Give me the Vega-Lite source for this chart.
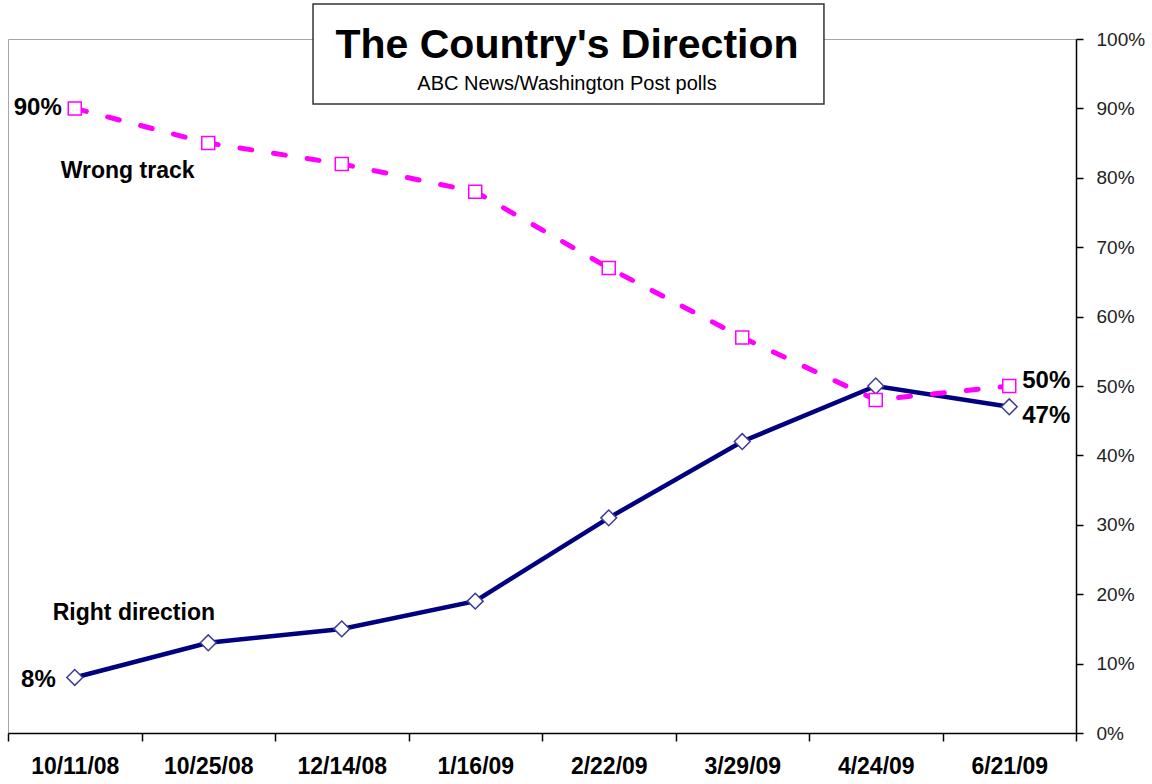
{
  "$schema": "https://vega.github.io/schema/vega-lite/v6.json",
  "width": 1068,
  "height": 694,
  "autosize": {"type": "none"},
  "padding": {"left": 8, "top": 39, "right": 76, "bottom": 51},
  "background": "white",
  "config": {"view": {"stroke": "#a6a6a6", "strokeWidth": 1}, "font": "Liberation Sans"},
  "datasets": {
    "polls": [
      {"date": "10/11/08", "series": "Right direction", "value": 8},
      {"date": "10/25/08", "series": "Right direction", "value": 13},
      {"date": "12/14/08", "series": "Right direction", "value": 15},
      {"date": "1/16/09", "series": "Right direction", "value": 19},
      {"date": "2/22/09", "series": "Right direction", "value": 31},
      {"date": "3/29/09", "series": "Right direction", "value": 42},
      {"date": "4/24/09", "series": "Right direction", "value": 50},
      {"date": "6/21/09", "series": "Right direction", "value": 47},
      {"date": "10/11/08", "series": "Wrong track", "value": 90},
      {"date": "10/25/08", "series": "Wrong track", "value": 85},
      {"date": "12/14/08", "series": "Wrong track", "value": 82},
      {"date": "1/16/09", "series": "Wrong track", "value": 78},
      {"date": "2/22/09", "series": "Wrong track", "value": 67},
      {"date": "3/29/09", "series": "Wrong track", "value": 57},
      {"date": "4/24/09", "series": "Wrong track", "value": 48},
      {"date": "6/21/09", "series": "Wrong track", "value": 50}
    ]
  },
  "layer": [
    {
      "encoding": {
        "x": {
          "field": "date",
          "type": "nominal",
          "sort": null,
          "bandPosition": 0.5,
          "scale": {
            "type": "band",
            "paddingInner": 0,
            "paddingOuter": 0,
            "domain": ["10/11/08", "10/25/08", "12/14/08", "1/16/09", "2/22/09", "3/29/09", "4/24/09", "6/21/09"]
          },
          "axis": {
            "title": null,
            "labelAngle": 0,
            "tickBand": "extent",
            "tickSize": 8,
            "tickColor": "black",
            "tickWidth": 1.5,
            "domainColor": "black",
            "domainWidth": 1.5,
            "labelFont": "Liberation Sans",
            "labelFontSize": 23,
            "labelFontWeight": "bold",
            "labelColor": "black",
            "labelPadding": 14,
            "grid": false
          }
        },
        "y": {
          "field": "value",
          "type": "quantitative",
          "scale": {"domain": [0, 100], "nice": false},
          "axis": {
            "orient": "right",
            "title": null,
            "values": [0, 10, 20, 30, 40, 50, 60, 70, 80, 90, 100],
            "labelExpr": "datum.value + '%'",
            "tickSize": 7,
            "tickColor": "black",
            "tickWidth": 1.5,
            "domainColor": "black",
            "domainWidth": 1.5,
            "labelFont": "Liberation Sans",
            "labelFontSize": 19,
            "labelColor": "#222222",
            "labelPadding": 13,
            "labelOverlap": false,
            "grid": false
          }
        }
      },
      "layer": [
        {
          "data": {"name": "polls"},
          "transform": [{"filter": "datum.series === 'Right direction'"}],
          "mark": {"type": "line", "color": "#000080", "strokeWidth": 4.5},
          "encoding": {}
        },
        {
          "data": {"name": "polls"},
          "transform": [{"filter": "datum.series === 'Right direction'"}],
          "mark": {"type": "point", "shape": "diamond", "size": 250, "filled": true, "fill": "white", "stroke": "#3c3c96", "strokeWidth": 1.5, "opacity": 1}
        },
        {
          "data": {"name": "polls"},
          "transform": [{"filter": "datum.series === 'Wrong track'"}],
          "mark": {"type": "line", "color": "#FF00FF", "strokeWidth": 5, "strokeCap": "round", "strokeDash": [12, 22]},
          "encoding": {}
        },
        {
          "data": {"name": "polls"},
          "transform": [{"filter": "datum.series === 'Wrong track'"}],
          "mark": {"type": "point", "shape": "square", "size": 169, "filled": true, "fill": "white", "stroke": "#FF00FF", "strokeWidth": 1.5, "opacity": 1}
        },
        {
          "data": {"values": [{"date": "10/11/08", "value": 90, "label": "90%"}]},
          "mark": {"type": "text", "align": "right", "baseline": "middle", "dx": -13, "fontSize": 24, "fontWeight": "bold", "color": "black"},
          "encoding": {"text": {"field": "label"}}
        },
        {
          "data": {"values": [{"date": "10/11/08", "value": 7.6, "label": "8%"}]},
          "mark": {"type": "text", "align": "right", "baseline": "middle", "dx": -19, "fontSize": 24, "fontWeight": "bold", "color": "black"},
          "encoding": {"text": {"field": "label"}}
        },
        {
          "data": {"values": [{"date": "10/11/08", "value": 81, "label": "Wrong track"}]},
          "mark": {"type": "text", "align": "left", "baseline": "middle", "dx": -14, "fontSize": 23, "fontWeight": "bold", "color": "black"},
          "encoding": {"text": {"field": "label"}}
        },
        {
          "data": {"values": [{"date": "10/11/08", "value": 17.3, "label": "Right direction"}]},
          "mark": {"type": "text", "align": "left", "baseline": "middle", "dx": -22, "fontSize": 23, "fontWeight": "bold", "color": "black"},
          "encoding": {"text": {"field": "label"}}
        },
        {
          "data": {"values": [{"date": "6/21/09", "value": 50.7, "label": "50%"}, {"date": "6/21/09", "value": 45.7, "label": "47%"}]},
          "mark": {"type": "text", "align": "left", "baseline": "middle", "dx": 13, "fontSize": 24, "fontWeight": "bold", "color": "black"},
          "encoding": {"text": {"field": "label"}}
        }
      ]
    },
    {
      "encoding": {
        "x": {"field": "bx", "type": "quantitative", "scale": {"domain": [0, 1], "nice": false, "zero": false}, "axis": null},
        "y": {"field": "by", "type": "quantitative", "scale": {"domain": [0, 100], "nice": false}, "axis": null}
      },
      "layer": [
        {
          "data": {"values": [{"bx": 0.2856, "bx2": 0.764, "by": 105.04, "by2": 90.63}]},
          "mark": {"type": "rect", "fill": "white", "stroke": "#333333", "strokeWidth": 1.5},
          "encoding": {"x2": {"field": "bx2"}, "y2": {"field": "by2"}}
        },
        {
          "data": {"values": [{"bx": 0.5234, "by": 97.2, "label": "The Country's Direction"}]},
          "mark": {"type": "text", "align": "center", "baseline": "alphabetic", "fontSize": 41, "fontWeight": "bold", "color": "black"},
          "encoding": {"text": {"field": "label"}}
        },
        {
          "data": {"values": [{"bx": 0.5234, "by": 92.7, "label": "ABC News/Washington Post polls"}]},
          "mark": {"type": "text", "align": "center", "baseline": "alphabetic", "fontSize": 20, "color": "black"},
          "encoding": {"text": {"field": "label"}}
        }
      ]
    }
  ],
  "resolve": {"scale": {"x": "independent", "y": "independent"}}
}
